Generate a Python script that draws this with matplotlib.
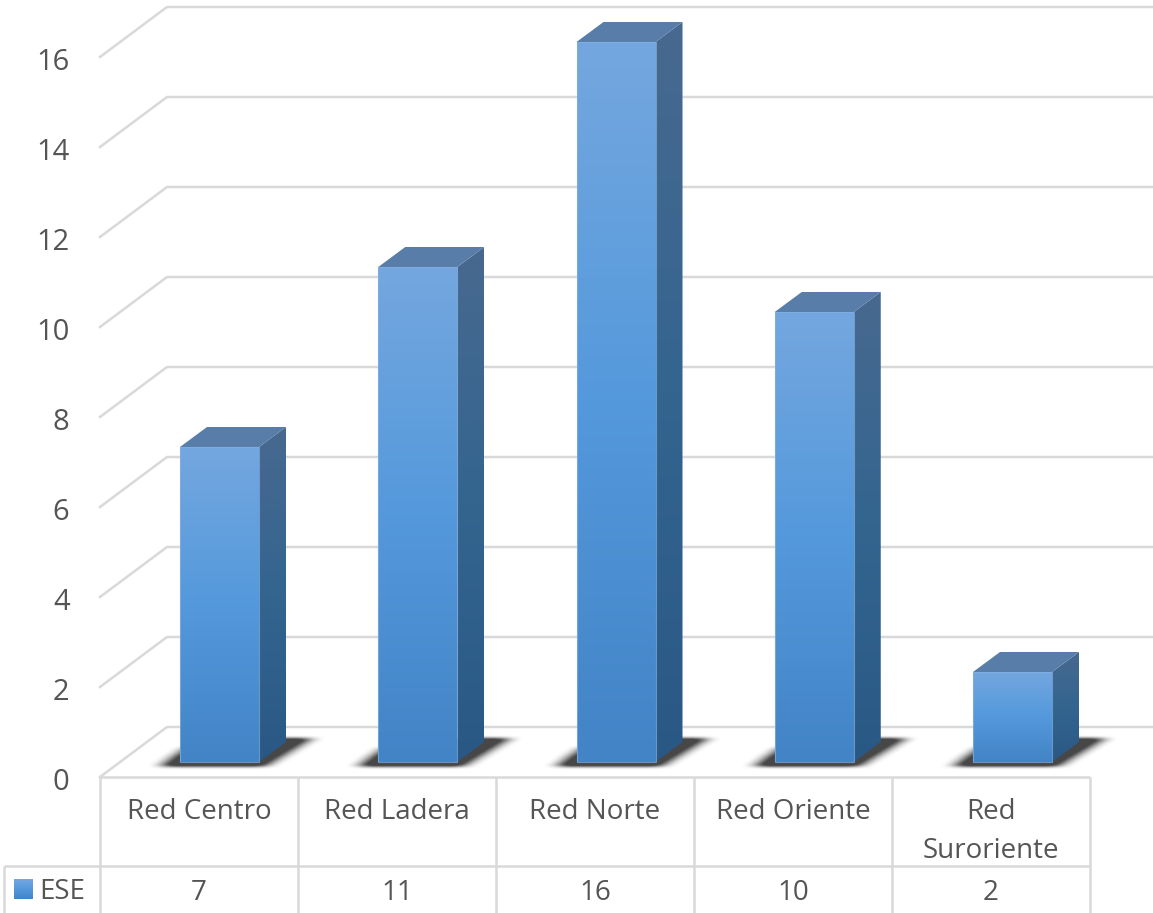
import matplotlib
matplotlib.use('Agg')
import matplotlib.pyplot as plt
import numpy as np
from matplotlib.colors import LinearSegmentedColormap
from matplotlib.patches import Polygon, Rectangle
from matplotlib.path import Path

categories = ['Red Centro', 'Red Ladera', 'Red Norte', 'Red Oriente', 'Red\nSuroriente']
series_name = 'ESE'
values = [7, 11, 16, 10, 2]
y_ticks = [0, 2, 4, 6, 8, 10, 12, 14, 16]

W, H = 1153, 913
x_unit = 198.25  # px per category
y_unit = 45.0    # px per value unit
x0_px = 219.5    # centre of the first bar
y0_px = 762.0    # base of the bars

grid_color = '#D9D9D9'
text_color = '#555555'

plt.rcParams['font.family'] = ['Open Sans', 'DejaVu Sans']

fig = plt.figure(figsize=(W / 100, H / 100), dpi=100)
ax = fig.add_axes([0, 0, 1, 1])


def dx(px):
    return px / x_unit


def dy(px):
    return px / y_unit


bar_w = dx(79)
depth_x, depth_y = dx(27), dy(20)

front_cmap = LinearSegmentedColormap.from_list('front', ['#4284C6', '#5499DC', '#74A7DF'])
side_cmap = LinearSegmentedColormap.from_list('side', ['#2A5885', '#33658F', '#48698F'])
top_color = '#587DA8'

# walls and floor: gridlines start at the front edge, run back, then across
front_left = dx(100 - x0_px)
back_left = dx(167 - x0_px)
right_end = dx(W - x0_px)
floor_front = dy(-15)
floor_back = dy(35)
for v in y_ticks:
    ax.plot([front_left, back_left, right_end], [v + floor_front, v + floor_back, v + floor_back],
            color=grid_color, lw=1.8, solid_joinstyle='miter', zorder=1)
    ax.text(dx(69.5 - x0_px), v + dy(-20), str(v), ha='right', va='center', fontsize=21,
            color=text_color)


def make_shadow(x_c):
    # soft dark parallelogram under a bar, rasterised then box blurred
    nx, ny = 260, 80
    xs = np.linspace(x_c - dx(100), x_c + dx(130), nx)
    ys = np.linspace(dy(-18), dy(36), ny)
    gx, gy = np.meshgrid(xs, ys)
    shape = Path([(x_c - dx(60), dy(-5)), (x_c + dx(44), dy(-5)), (x_c + dx(92), dy(24)),
                  (x_c + dx(50), dy(24)), (x_c - dx(34), dy(14))])
    mask = shape.contains_points(np.c_[gx.ravel(), gy.ravel()]).reshape(gx.shape).astype(float)
    kernel_x = np.ones(19) / 19
    kernel_y = np.ones(5) / 5
    for _ in range(2):
        mask = np.apply_along_axis(lambda r: np.convolve(r, kernel_x, mode='same'), 1, mask)
        mask = np.apply_along_axis(lambda c: np.convolve(c, kernel_y, mode='same'), 0, mask)
    rgba = np.zeros((ny, nx, 4))
    rgba[..., :3] = 0.15
    rgba[..., 3] = np.clip(mask * 1.15, 0, 0.85)
    ax.imshow(rgba, extent=(xs[0], xs[-1], ys[0], ys[-1]), origin='lower', aspect='auto',
              interpolation='bilinear', zorder=2)


def gradient_poly(points, cmap, y_low, y_high, zorder):
    poly = Polygon(points, closed=True, facecolor='none', edgecolor='none', zorder=zorder)
    ax.add_patch(poly)
    xs = [p[0] for p in points]
    grad = np.linspace(0, 1, 256).reshape(-1, 1)
    im = ax.imshow(grad, extent=(min(xs), max(xs), y_low, y_high), origin='lower', aspect='auto',
                   cmap=cmap, vmin=0, vmax=1, zorder=zorder)
    im.set_clip_path(poly)


# columns: shadow, then side, top and front faces
for i, val in enumerate(values):
    left, right = i - bar_w / 2, i + bar_w / 2
    make_shadow(i)
    gradient_poly([(right, 0), (right + depth_x, depth_y), (right + depth_x, val + depth_y),
                   (right, val)], side_cmap, 0, val + depth_y, 4)
    ax.add_patch(Polygon([(left, val), (left + depth_x, val + depth_y),
                          (right + depth_x, val + depth_y), (right, val)], closed=True,
                         facecolor=top_color, edgecolor='none', zorder=4))
    gradient_poly([(left, 0), (right, 0), (right, val), (left, val)], front_cmap, 0, val, 5)
    ax.add_patch(Rectangle((left, 0), bar_w, val, facecolor='none', edgecolor='#86B0E0',
                           lw=0.8, alpha=0.7, zorder=6))

# data table under the plot
table_right = dx(1090 - x0_px)
table_far_left = dx(4 - x0_px)
row1 = dy(-15)
row2 = dy(762 - 866)
row3 = dy(762 - 913)
line_kw = dict(color=grid_color, lw=1.8, zorder=3, solid_capstyle='butt')
ax.plot([front_left, table_right], [row1, row1], **line_kw)
ax.plot([table_far_left, table_right], [row2, row2], **line_kw)
ax.plot([table_far_left, table_far_left], [row2, row3], **line_kw)
for k in range(len(categories) + 1):
    xk = front_left + k * dx(198)
    ax.plot([xk, xk], [row1, row3], **line_kw)

for i, (cat, val) in enumerate(zip(categories, values)):
    xc = front_left + (i + 0.5) * dx(198)
    if '\n' in cat:
        first, second = cat.split('\n')
        ax.text(xc, dy(762 - 812), first, ha='center', va='center', fontsize=20, color=text_color)
        ax.text(xc, dy(762 - 851), second, ha='center', va='center', fontsize=20, color=text_color)
    else:
        ax.text(xc, dy(762 - 812), cat, ha='center', va='center', fontsize=20, color=text_color)
    ax.text(xc, dy(762 - 893), str(val), ha='center', va='center', fontsize=20, color=text_color)

# legend key inside the table
key = np.linspace(0, 1, 64).reshape(-1, 1)
ax.imshow(key, extent=(dx(14 - x0_px), dx(33 - x0_px), dy(762 - 899), dy(762 - 880)),
          origin='lower', aspect='auto', cmap=front_cmap, vmin=0, vmax=1, zorder=5)
ax.text(dx(39 - x0_px), dy(762 - 892), series_name, ha='left', va='center', fontsize=20,
        color=text_color)

ax.set_xlim(-x0_px / x_unit, (W - x0_px) / x_unit)
ax.set_ylim((y0_px - H) / y_unit, y0_px / y_unit)
ax.axis('off')

fig.savefig('out.png', dpi=100, facecolor='white')
